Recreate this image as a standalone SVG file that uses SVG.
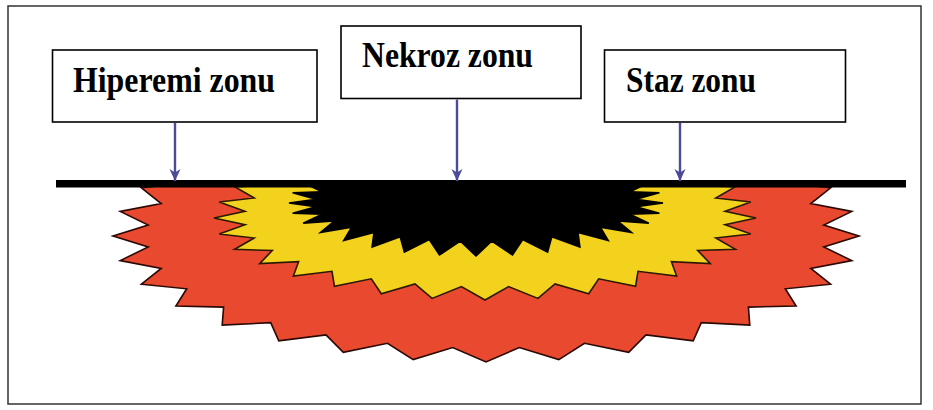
<svg xmlns="http://www.w3.org/2000/svg" width="933" height="410" viewBox="0 0 933 410">
  <defs>
    <style>
      .frame { fill: #ffffff; stroke: #333333; stroke-width: 1.5; }
      .box { fill: #ffffff; stroke: #000000; stroke-width: 1.6; }
      .label { font-family: "Liberation Serif", "Times New Roman", serif; font-weight: bold; font-size: 35px; fill: #000000; }
      .zone { stroke-width: 1.6; stroke-linejoin: miter; }
      .hyper { fill: #E9492F; stroke: #2a0804; }
      .stasis { fill: #F3D21E; stroke: #2a1a04; }
      .necro { fill: #000000; stroke: #000000; }
      .conn { stroke: #4B4B99; stroke-width: 2.4; fill: none; }
    </style>
    <marker id="head" viewBox="0 0 12 12" refX="12" refY="6" markerWidth="12" markerHeight="12" markerUnits="userSpaceOnUse" orient="auto">
      <path d="M0,0.5 L12,6 L0,11.5 L3.5,6 z" fill="#4B4B99"/>
    </marker>
    <clipPath id="below">
      <rect x="0" y="184" width="933" height="226"/>
    </clipPath>
  </defs>

  <rect class="frame" x="8" y="6" width="913" height="398"/>

  <!-- burn zones: three 32-point stars, cut off at the skin line -->
  <g id="zones" clip-path="url(#below)">
    <polygon id="zone-hyperemia" class="zone hyper" points="796.1,166 785.3,183.2 830.6,187.8 810.8,203.5 851.8,211.4 823.8,225 859,236 823.8,247 851.8,260.6 810.8,268.5 830.6,284.2 785.3,288.8 796.1,306 748.4,307.1 749.8,325.1 701.3,322.7 693.2,340.8 646,334.9 628.7,352.4 584.5,343.3 558.8,359.6 519.3,347.6 486,362 452.7,347.6 413.2,359.6 387.5,343.3 343.3,352.4 326,334.9 278.8,340.8 270.7,322.7 222.2,325.1 223.6,307.1 175.9,306 186.7,288.8 141.4,284.2 161.2,268.5 120.2,260.6 148.2,247 113,236 148.2,225 120.2,211.4 161.2,203.5 141.4,187.8 186.7,183.2 175.9,166"/>
    <polygon id="zone-stasis" class="zone stasis" points="710.3,172.4 697.7,185.5 735.4,186.6 715.8,198 750.8,202 725,211.2 756,218 725,224.8 750.8,234 715.8,238 735.4,249.4 697.7,250.5 710.3,263.6 671.4,261.7 676.6,276 638,271.3 635.6,286.2 598.7,278.8 588.7,293.8 555,283.9 537.9,298.4 508.6,286.6 485,300 461.4,286.6 432.1,298.4 415,283.9 381.3,293.8 371.3,278.8 334.4,286.2 332,271.3 293.4,276 298.6,261.7 259.7,263.6 272.3,250.5 234.6,249.4 254.2,238 219.2,234 245,224.8 214,218 245,211.2 219.2,202 254.2,198 234.6,186.6 272.3,185.5 259.7,172.4"/>
    <polygon id="zone-necrosis" class="zone necro" points="631.5,173.6 617.8,185 648.8,182.7 629.9,191.9 659.4,192.7 636,199.3 663,203 636,206.7 659.4,213.3 629.9,214.1 648.8,223.3 617.8,221 631.5,232.4 600.3,227.2 608.2,240.5 578,232.5 579.9,247.1 551.8,236.7 547.6,252 522.7,239.6 512.5,255 491.8,241 476,256 460.2,241 439.5,255 429.3,239.6 404.4,252 400.2,236.7 372.1,247.1 374,232.5 343.8,240.5 351.7,227.2 320.5,232.4 334.2,221 303.2,223.3 322.1,214.1 292.6,213.3 316,206.7 289,203 316,199.3 292.6,192.7 322.1,191.9 303.2,182.7 334.2,185 320.5,173.6"/>
  </g>

  <!-- skin surface -->
  <rect id="surface" x="56" y="180" width="850" height="7.5" fill="#000000"/>

  <g id="node-hyperemia">
    <rect class="box" x="52.5" y="50" width="264.5" height="72"/>
    <text class="label" x="73" y="92" textLength="202" lengthAdjust="spacingAndGlyphs">Hiperemi zonu</text>
  </g>

  <g id="node-necrosis">
    <rect class="box" x="341" y="26" width="240" height="72.5"/>
    <text class="label" x="362" y="67" textLength="171" lengthAdjust="spacingAndGlyphs">Nekroz zonu</text>
  </g>

  <g id="node-stasis">
    <rect class="box" x="604.5" y="50" width="241" height="72"/>
    <text class="label" x="626" y="92" textLength="130" lengthAdjust="spacingAndGlyphs">Staz zonu</text>
  </g>

  <g id="connectors">
    <line class="conn" x1="175" y1="123" x2="175" y2="181" marker-end="url(#head)"/>
    <line class="conn" x1="457" y1="99.5" x2="457" y2="181" marker-end="url(#head)"/>
    <line class="conn" x1="680" y1="123" x2="680" y2="181" stroke-width="1.8" marker-end="url(#head)"/>
  </g>
</svg>
